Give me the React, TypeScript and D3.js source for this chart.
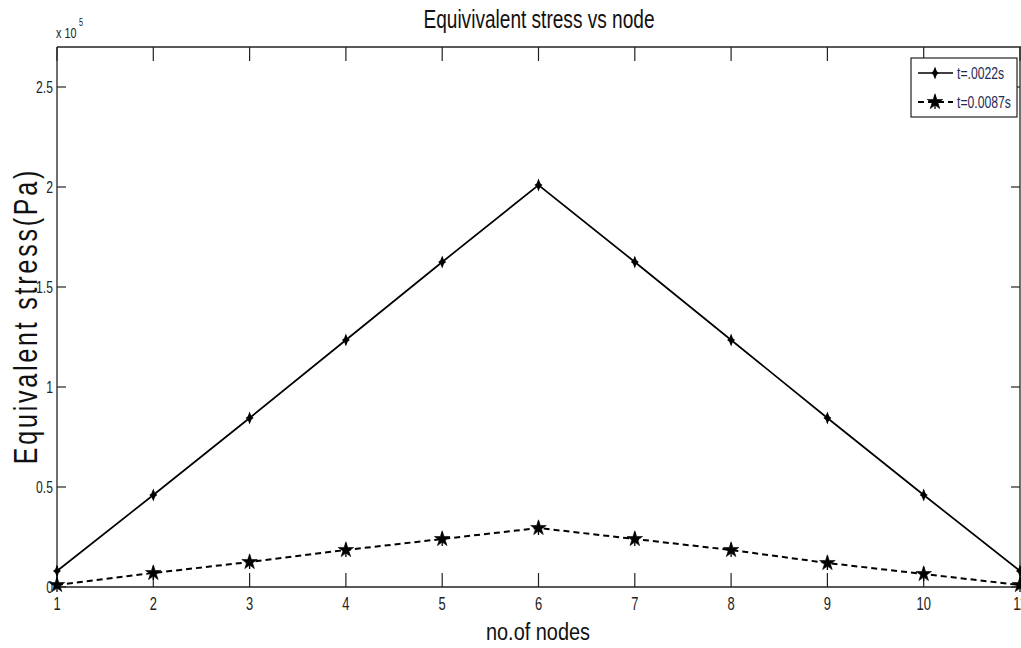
import React from "react";
import * as d3 from "d3";

const nodes = [1, 2, 3, 4, 5, 6, 7, 8, 9, 10, 11];
const stressT1 = [0.08, 0.46, 0.845, 1.235, 1.625, 2.01, 1.625, 1.235, 0.845, 0.46, 0.08];
const stressT2 = [0.01, 0.07, 0.125, 0.185, 0.24, 0.295, 0.24, 0.185, 0.12, 0.065, 0.01];
const yTicks = [0, 0.5, 1, 1.5, 2, 2.5];
const yTickLabels = ["0", "0.5", "1", "1.5", "2", "2.5"];
const seriesNames = ["t=.0022s", "t=0.0087s"];

const W = 1021;
const H = 648;
const FONT = "'Liberation Sans', Arial, Helvetica, sans-serif";
const SX = 0.74;

export default function App() {
  const x = d3.scaleLinear().domain([1, 11]).range([57, 1020]);
  const y = d3.scaleLinear().domain([0, 2.7]).range([587, 47]);
  const line = d3
    .line<number>()
    .x((_, i) => x(nodes[i]))
    .y((d) => y(d));

  const star4 = "M0,-6.5 L1.8,-1.8 L4,0 L1.8,1.8 L0,6.5 L-1.8,1.8 L-4,0 L-1.8,-1.8Z";
  const starSym = d3.symbol().type(d3.symbolStar).size(75)() as string;

  const m1 = (cx: number, cy: number, k: string) => (
    <path key={k} d={star4} transform={`translate(${cx},${cy})`} fill="#000" />
  );
  const m2 = (cx: number, cy: number, k: string) => (
    <g key={k} transform={`translate(${cx},${cy})`}>
      <path d={starSym} fill="#000" stroke="#000" strokeWidth={0.6} />
      <line x1={0} y1={-7} x2={0} y2={7} stroke="#000" strokeWidth={1.3} />
    </g>
  );

  const txt = (
    s: string,
    tx: number,
    ty: number,
    size: number,
    anchor: string,
    sx = SX,
    fill = "#222"
  ) => (
    <text
      transform={`translate(${tx},${ty}) scale(${sx},1)`}
      fontSize={size}
      fontFamily={FONT}
      textAnchor={anchor}
      fill={fill}
    >
      {s}
    </text>
  );

  return (
    <svg
      width={W}
      height={H}
      style={{ position: "absolute", left: 0, top: 0, background: "#fff" }}
    >
      <rect x={0} y={0} width={W} height={H} fill="#fff" />
      {/* axes box */}
      <g stroke="#222" strokeWidth={1.3} fill="none">
        <line x1={57} y1={47} x2={1021} y2={47} />
        <line x1={57} y1={47} x2={57} y2={587} />
        <line x1={57} y1={587} x2={1021} y2={587} />
        <line x1={1020} y1={47} x2={1020} y2={587} />
      </g>
      {/* ticks */}
      <g stroke="#222" strokeWidth={1.2}>
        {yTicks.map((t) => (
          <g key={"yt" + t}>
            <line x1={57} x2={66} y1={y(t)} y2={y(t)} />
            <line x1={1011} x2={1020} y1={y(t)} y2={y(t)} />
          </g>
        ))}
        {nodes.map((n) => (
          <g key={"xt" + n}>
            <line x1={x(n)} x2={x(n)} y1={587} y2={573} />
            <line x1={x(n)} x2={x(n)} y1={47} y2={61} />
          </g>
        ))}
      </g>
      {/* tick labels */}
      {yTicks.map((t, i) => (
        <g key={"yl" + t}>{txt(yTickLabels[i], 53, y(t) + 6, 16.5, "end")}</g>
      ))}
      {nodes.map((n) => (
        <g key={"xl" + n}>{txt(String(n), x(n), 610, 17.5, "middle")}</g>
      ))}
      {/* exponent */}
      {txt("x 10", 56, 38, 15, "start", 0.72)}
      {txt("5", 79, 26, 10, "start", 0.72)}
      {/* title */}
      {txt("Equivivalent stress vs node", 539, 28, 26.5, "middle", 0.72, "#111")}
      {/* x label */}
      {txt("no.of nodes", 538, 640, 24, "middle", 0.83, "#111")}
      {/* y label */}
      <text
        transform={`translate(37,316) rotate(-90) scale(1,1.3)`}
        fontSize={25}
        fontFamily={FONT}
        textAnchor="middle"
        letterSpacing={2.8}
        fill="#111"
      >
        Equivalent stress(Pa)
      </text>
      {/* series lines */}
      <path d={line(stressT1) as string} fill="none" stroke="#000" strokeWidth={1.7} />
      <path
        d={line(stressT2) as string}
        fill="none"
        stroke="#000"
        strokeWidth={2}
        strokeDasharray="6,4"
      />
      {stressT1.map((v, i) => m1(x(nodes[i]), y(v), "a" + i))}
      {stressT2.map((v, i) => m2(x(nodes[i]), y(v), "b" + i))}
      {/* legend */}
      <rect x={911} y={58} width={106} height={59} fill="#fff" stroke="#222" strokeWidth={1.2} />
      <line x1={918} x2={953} y1={73} y2={73} stroke="#000" strokeWidth={1.7} />
      {m1(935, 73, "lg1")}
      {txt(seriesNames[0], 957, 79, 16.5, "start", SX, "#1c2b55")}
      <line
        x1={918}
        x2={953}
        y1={102}
        y2={102}
        stroke="#000"
        strokeWidth={2}
        strokeDasharray="6,4"
      />
      {m2(935, 102, "lg2")}
      {txt(seriesNames[1], 957, 108, 16.5, "start", SX, "#1c2b55")}
    </svg>
  );
}
